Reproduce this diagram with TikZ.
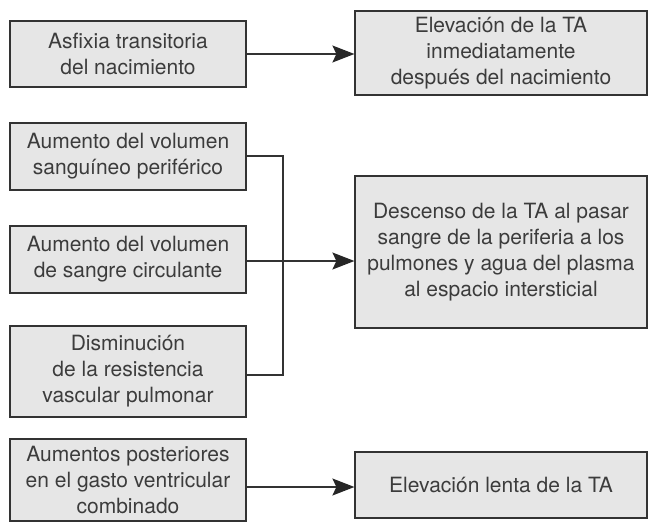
\documentclass[tikz,border=0pt]{standalone}
\usepackage{fontspec}
\setmainfont{TeX Gyre Heros}
\usetikzlibrary{arrows.meta}
\definecolor{boxfill}{HTML}{E6E6E6}
\definecolor{ink}{HTML}{333333}
\definecolor{txt}{HTML}{3C3C3C}
\tikzset{
  box/.style={draw=ink, fill=boxfill, line width=1.2pt, inner sep=0pt, align=center,
    text=txt, font=\fontsize{21}{26}\selectfont},
  conn/.style={draw=ink, line width=1.2pt},
  arr/.style={conn, -{Stealth[length=22pt,width=17pt,inset=4pt,fill=black!85,color=black!85]}}
}
\begin{document}
\begin{tikzpicture}[x=1pt,y=-1pt]
\useasboundingbox (0,0) rectangle (648,527);
\node[box, minimum width=236pt, minimum height=66pt] (b1) at (128,54) {Asfixia transitoria\\del nacimiento};
\node[box, minimum width=292pt, minimum height=84pt] (e1) at (501,53) {Elevación de la TA\\inmediatamente\\después del nacimiento};
\node[box, minimum width=236pt, minimum height=67pt] (b3) at (128,156.5) {Aumento del volumen\\sanguíneo periférico};
\node[box, minimum width=236pt, minimum height=67pt] (b4) at (128,259.5) {Aumento del volumen\\de sangre circulante};
\node[box, minimum width=236pt, minimum height=91pt] (b5) at (128,371.5) {Disminución\\de la resistencia\\vascular pulmonar};
\node[box, minimum width=292pt, minimum height=152pt] (d) at (501,252) {Descenso de la TA al pasar\\sangre de la periferia a los\\pulmones y agua del plasma\\al espacio intersticial};
\node[box, minimum width=236pt, minimum height=82pt] (b6) at (128,480) {Aumentos posteriores\\en el gasto ventricular\\combinado};
\node[box, minimum width=292pt, minimum height=66pt] (e2) at (501,485) {Elevación lenta de la TA};
\coordinate (j1) at (283,156);
\coordinate (j2) at (283,375);
\draw[arr] (b1.east |- 0,54) -- (e1.west |- 0,54);
\draw[conn] (b3.east |- j1) -- (j1) -- (j2) -- (b5.east |- j2);
\draw[arr] (b4.east |- 0,261) -- (d.west |- 0,261);
\draw[arr] (b6.east |- 0,487) -- (e2.west |- 0,487);
\end{tikzpicture}
\end{document}
